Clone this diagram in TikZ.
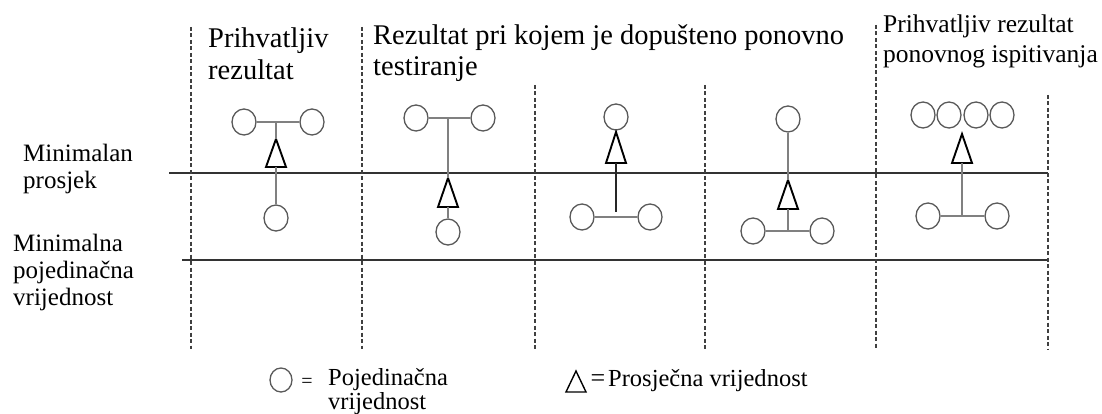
\documentclass[tikz,border=0pt]{standalone}
\usepackage{fontspec}
\setmainfont{Liberation Serif}
\usetikzlibrary{shapes.geometric}
\tikzset{
  hline/.style={draw=black!80, line width=1.6pt},
  vdash/.style={draw=black!75, line width=1.2pt, dash pattern=on 4pt off 2.5pt},
  ind/.style={ellipse, draw=black!65, line width=1.3pt, minimum width=24pt, minimum height=26pt, inner sep=0pt},
  stem/.style={draw=black!50, line width=1.4pt},
  darkstem/.style={draw=black!85, line width=1.4pt},
  avg/.style={draw=black, line width=1.9pt, line join=miter},
  hdr/.style={anchor=base west, inner sep=0pt, font=\fontsize{28.5}{32}\selectfont},
  hdrs/.style={anchor=base west, inner sep=0pt, font=\fontsize{25.5}{30}\selectfont},
  lbl/.style={anchor=base west, inner sep=0pt, font=\fontsize{25}{27}\selectfont},
  leg/.style={anchor=base west, inner sep=0pt, font=\fontsize{24.5}{23}\selectfont},
  eq/.style={inner sep=0pt, font=\fontsize{20}{20}\selectfont},
  eqb/.style={inner sep=0pt, font=\fontsize{26}{26}\selectfont}
}
% triangle: name, x, apex y, base y, half width
\newcommand{\avgtri}[5]{%
  \coordinate (#1a) at (#2,#3);
  \coordinate (#1b) at (#2,#4);
  \draw[avg] (#2,#3) -- (#2+#5,#4) -- (#2-#5,#4) -- cycle;
}
\begin{document}
\begin{tikzpicture}[x=1pt,y=-1pt]
\useasboundingbox (0,0) rectangle (1102,414);
\fill[white] (0,0) rectangle (1102,414);

% horizontal limit lines
\coordinate (ha) at (169,173); \coordinate (hb) at (1048,173);
\coordinate (la) at (182,260); \coordinate (lb) at (1048,260);
\draw[hline] (ha) -- (hb);
\draw[hline] (la) -- (lb);

% dashed separators
\foreach \n/\x/\t in {d1/191/27, d2/362/27, d3/535/85, d4/705/85, d5/876/25, d6/1048/95}{
  \coordinate (\n t) at (\x,\t);
  \coordinate (\n b) at (\x,349);
  \draw[vdash] (\n t) -- (\n b);
}

% headers
\node[hdr] (h1a) at (208,48) {Prihvatljiv};
\node[hdr] (h1b) at (208,80) {rezultat};
\node[hdr] (h2a) at (373,45) {Rezultat pri kojem je dopušteno ponovno};
\node[hdr] (h2b) at (373,76) {testiranje};
\node[hdrs] (h3a) at (883,33) {Prihvatljiv rezultat};
\node[hdrs] (h3b) at (883,63) {ponovnog ispitivanja};

% left labels
\node[lbl] (m1a) at (23,162) {Minimalan};
\node[lbl] (m1b) at (23,189) {prosjek};
\node[lbl] (m2a) at (13,251) {Minimalna};
\node[lbl] (m2b) at (13,278) {pojedinačna};
\node[lbl] (m2c) at (13,305) {vrijednost};

% group 1
\node[ind] (g1l) at (244,122) {};
\node[ind] (g1r) at (312,122) {};
\node[ind] (g1c) at (276,218) {};
\coordinate (g1m) at (276,122);
\avgtri{T1}{276}{139}{167}{10}
\draw[stem] (g1l) -- (g1r);
\draw[stem] (g1m) -- (T1a);
\draw[stem] (T1b) -- (g1c);

% group 2
\node[ind] (g2l) at (416,118) {};
\node[ind] (g2r) at (483,118) {};
\node[ind] (g2c) at (448,232) {};
\coordinate (g2m) at (448,118);
\avgtri{T2}{448}{178}{207}{10}
\draw[stem] (g2l) -- (g2r);
\draw[stem] (g2m) -- (T2a);
\draw[stem] (T2b) -- (g2c);

% group 3
\node[ind] (g3t) at (616,117) {};
\node[ind] (g3l) at (582,217) {};
\node[ind] (g3r) at (650,217) {};
\coordinate (g3m) at (616,217);
\coordinate (g3e) at (616,212);
\avgtri{T3}{616}{132}{163}{10}
\draw[stem] (g3l) -- (g3r);
\draw[darkstem] (T3b) -- (g3e);

% group 4
\node[ind] (g4t) at (788,119) {};
\node[ind] (g4l) at (753,231) {};
\node[ind] (g4r) at (822,231) {};
\coordinate (g4m) at (788,231);
\avgtri{T4}{788}{180}{209}{10}
\draw[stem] (g4t) -- (T4a);
\draw[stem] (T4b) -- (g4m);
\draw[stem] (g4l) -- (g4r);

% group 5
\node[ind] (g5a) at (923,115) {};
\node[ind] (g5b) at (949,115) {};
\node[ind] (g5c) at (976,115) {};
\node[ind] (g5d) at (1002,115) {};
\node[ind] (g5l) at (928,216) {};
\node[ind] (g5r) at (997,216) {};
\coordinate (g5m) at (962,216);
\avgtri{T5}{962}{134}{163}{10}
\draw[stem] (T5b) -- (g5m);
\draw[stem] (g5l) -- (g5r);

% legend
\node[ind, minimum width=22pt, minimum height=24pt] (lc) at (281,380) {};
\node[eq] (le1) at (307,383) {=};
\node[leg] (lt1) at (328,385) {Pojedinačna};
\node[leg] (lt2) at (328,409) {vrijednost};
\coordinate (ltri) at (576,382);
\draw[draw=black, line width=1.4pt, line join=miter] (576,371) -- (586,392) -- (566,392) -- cycle;
\node[eqb] (le2) at (598,381) {=};
\node[leg] (lt3) at (608,386) {Prosječna vrijednost};
\end{tikzpicture}
\end{document}
